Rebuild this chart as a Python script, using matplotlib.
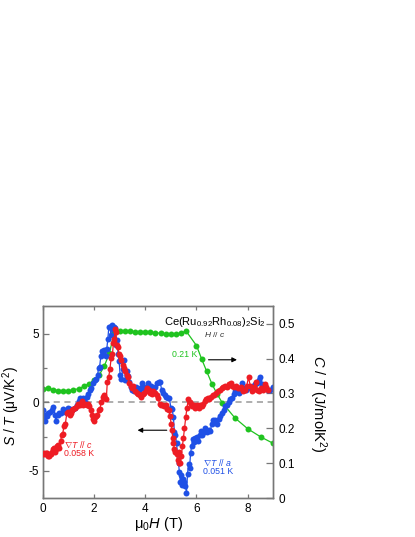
import numpy as np
import matplotlib
matplotlib.use("Agg")
import matplotlib.pyplot as plt
from matplotlib.ticker import FixedLocator, FixedFormatter

plt.rcParams["font.family"] = ["Liberation Sans", "DejaVu Sans"]
plt.rcParams["mathtext.fontset"] = "custom"
plt.rcParams["mathtext.rm"] = "Liberation Sans"
plt.rcParams["mathtext.it"] = "Liberation Sans:italic"
plt.rcParams["axes.unicode_minus"] = False

# S/T, grad T // a (left axis)
h_a = [0.00, 0.03, 0.06, 0.10, 0.16, 0.22, 0.30, 0.35, 0.41, 0.47, 0.52, 0.58, 0.65, 0.72,
       0.80, 0.87, 0.93, 1.00, 1.07, 1.13, 1.20, 1.27, 1.33, 1.40, 1.47, 1.53, 1.59, 1.65,
       1.72, 1.78, 1.84, 1.90, 1.96, 2.02, 2.08, 2.14, 2.18, 2.22, 2.27, 2.31, 2.36, 2.40,
       2.45, 2.50, 2.54, 2.58, 2.62, 2.66, 2.70, 2.74, 2.78, 2.82, 2.86, 2.90, 2.94, 2.98,
       3.02, 3.07, 3.12, 3.17, 3.22, 3.27, 3.32, 3.38, 3.44, 3.50, 3.56, 3.62, 3.68, 3.74,
       3.80, 3.86, 3.92, 3.98, 4.05, 4.11, 4.17, 4.24, 4.31, 4.38, 4.45, 4.52, 4.58, 4.64,
       4.70, 4.76, 4.82, 4.88, 4.94, 5.00, 5.05, 5.10, 5.14, 5.18, 5.22, 5.26, 5.30, 5.33,
       5.37, 5.41, 5.45, 5.49, 5.53, 5.57, 5.61, 5.65, 5.69, 5.73, 5.77, 5.81, 5.85, 5.90,
       5.95, 6.01, 6.06, 6.12, 6.18, 6.23, 6.29, 6.35, 6.41, 6.47, 6.53, 6.60, 6.66, 6.73,
       6.79, 6.86, 6.93, 7.00, 7.06, 7.12, 7.19, 7.25, 7.32, 7.38, 7.45, 7.52, 7.58, 7.65,
       7.72, 7.78, 7.85, 7.92, 8.00, 8.10, 8.20, 8.30, 8.36, 8.43, 8.49, 8.56, 8.62, 8.69,
       8.78, 8.88, 9.00]
s_a = [-0.6, -0.9, -1.0, -1.4, -1.0, -0.8, -0.7, -0.6, -0.35, -0.9, -1.4, -0.9, -0.8, -0.75,
       -0.5, -0.7, -0.6, -0.45, -0.5, -0.6, -0.5, -0.4, -0.2, 0.1, 0.3, 0.2, 0.3, 0.0,
       0.4, 0.6, 0.9, 1.0, 1.4, 1.6, 1.7, 2.0, 2.5, 2.6, 3.4, 3.7, 3.6, 3.8,
       3.4, 3.9, 4.6, 5.5, 5.5, 4.9, 5.6, 5.3, 5.5, 5.4, 4.2, 4.5, 3.5, 3.0,
       2.0, 1.7, 2.4, 3.1, 1.6, 2.3, 1.9, 1.5, 1.1, 0.9, 0.8, 1.1, 0.9, 0.8,
       1.0, 1.4, 1.0, 1.1, 1.0, 1.4, 1.1, 1.2, 0.9, 1.1, 1.4, 1.5, 1.5, 0.9,
       0.7, 0.5, 0.4, 0.3, 0.3, -0.4, -0.5, -1.1, -2.2, -2.4, -3.0, -3.7, -4.4, -5.1,
       -5.8, -5.3, -6.0, -5.6, -5.8, -6.1, -6.6, -5.2, -4.5, -4.8, -3.7, -3.2, -2.7, -2.9,
       -2.6, -2.5, -2.8, -2.4, -2.1, -2.4, -2.2, -1.9, -2.2, -2.0, -2.1, -1.6, -1.3, -1.3,
       -1.6, -1.2, -1.0, -0.8, -0.6, -0.3, -0.2, 0.0, 0.2, 0.3, 0.6, 0.8, 0.9, 0.7,
       0.9, 1.4, 1.0, 0.9, 1.0, 1.1, 1.2, 1.3, 1.4, 1.6, 1.8, 1.3, 1.1, 1.0,
       0.9, 0.9, 1.1]

# S/T, grad T // c (left axis)
h_c = [0.00, 0.05, 0.09, 0.13, 0.18, 0.22, 0.26, 0.31, 0.35, 0.39, 0.44, 0.48, 0.52, 0.56,
       0.61, 0.65, 0.70, 0.74, 0.78, 0.83, 0.88, 0.94, 1.00, 1.05, 1.09, 1.14, 1.20, 1.26,
       1.33, 1.39, 1.46, 1.52, 1.59, 1.65, 1.72, 1.78, 1.82, 1.87, 1.91, 1.96, 2.00, 2.04,
       2.09, 2.13, 2.18, 2.23, 2.28, 2.34, 2.39, 2.44, 2.48, 2.52, 2.57, 2.62, 2.67, 2.72,
       2.76, 2.79, 2.82, 2.86, 2.89, 2.93, 2.97, 3.02, 3.07, 3.12, 3.17, 3.22, 3.27, 3.32,
       3.38, 3.43, 3.48, 3.54, 3.60, 3.66, 3.72, 3.78, 3.84, 3.90, 3.96, 4.02, 4.08, 4.14,
       4.20, 4.26, 4.32, 4.38, 4.44, 4.50, 4.56, 4.62, 4.68, 4.74, 4.80, 4.86, 4.92, 4.97,
       5.01, 5.04, 5.07, 5.10, 5.14, 5.18, 5.22, 5.26, 5.30, 5.33, 5.37, 5.41, 5.45, 5.49,
       5.53, 5.58, 5.63, 5.68, 5.73, 5.78, 5.84, 5.90, 5.96, 6.02, 6.08, 6.14, 6.20, 6.26,
       6.32, 6.38, 6.44, 6.50, 6.57, 6.63, 6.70, 6.77, 6.84, 6.91, 6.98, 7.05, 7.12, 7.19,
       7.26, 7.33, 7.40, 7.47, 7.54, 7.61, 7.68, 7.75, 7.82, 7.89, 7.96, 8.03, 8.10, 8.17,
       8.24, 8.31, 8.38, 8.45, 8.52, 8.59, 8.66, 8.73, 8.80]
s_c = [-3.8, -3.7, -3.8, -3.7, -3.7, -3.9, -3.9, -3.8, -3.6, -3.4, -3.3, -3.6, -3.4, -3.2,
       -3.1, -3.3, -2.8, -2.4, -2.3, -1.7, -1.6, -0.8, -0.7, -0.9, -0.8, -0.6, -0.5, -0.4,
       -0.3, -0.1, -0.2, 0.1, -0.2, -0.1, -0.2, -0.1, -0.3, -0.6, -0.9, -1.2, -1.4, -1.1,
       -1.0, -0.9, -0.6, -0.5, 0.0, 0.4, 0.5, 0.3, 0.2, 1.5, 1.8, 2.4, 3.2, 3.5,
       4.3, 4.6, 5.3, 5.1, 4.2, 4.0, 3.5, 3.4, 3.1, 2.7, 2.5, 2.3, 2.0, 1.8,
       1.4, 1.2, 1.0, 1.2, 0.8, 0.7, 0.6, 0.5, 0.4, 0.6, 0.7, 0.8, 1.0, 0.9,
       0.7, 0.6, 0.8, 0.7, 0.5, 0.3, -0.1, -0.2, -0.2, -0.3, -0.2, -0.5, -0.6, -1.0,
       -1.6, -2.0, -2.6, -3.0, -3.4, -3.6, -3.8, -4.2, -4.4, -3.6, -4.4, -3.9, -3.2, -2.6,
       -1.9, -1.1, -0.4, 0.2, 0.0, -0.1, -0.3, -0.2, -0.4, -0.2, -0.4, -0.2, -0.3, -0.1,
       0.1, 0.2, 0.3, 0.2, 0.4, 0.5, 0.5, 0.7, 0.8, 0.9, 1.0, 1.1, 1.2, 1.1,
       1.3, 1.4, 1.2, 1.1, 1.2, 1.0, 1.0, 1.1, 0.8, 0.9, 1.2, 1.8, 1.2, 0.8,
       1.1, 1.5, 0.9, 0.8, 1.0, 0.9, 1.3, 1.1, 0.9]

# C/T at 0.21 K (right axis)
h_heat = [0.0, 0.2, 0.4, 0.6, 0.8, 1.0, 1.2, 1.4, 1.6, 1.8, 2.0, 2.2, 2.4, 2.6, 2.8,
          3.0, 3.2, 3.4, 3.6, 3.8, 4.0, 4.2, 4.4, 4.6, 4.8, 5.0, 5.2, 5.4, 5.6,
          6.0, 6.2, 6.4, 6.6, 6.8, 7.0, 7.5, 8.0, 8.5, 9.0]
c_heat = [0.312, 0.315, 0.311, 0.308, 0.307, 0.308, 0.310, 0.314, 0.320, 0.328, 0.338, 0.352,
          0.378, 0.415, 0.477, 0.478, 0.478, 0.478, 0.477, 0.477, 0.476, 0.475, 0.474, 0.472,
          0.470, 0.469, 0.470, 0.473, 0.478, 0.437, 0.399, 0.363, 0.328, 0.299, 0.274,
          0.230, 0.199, 0.176, 0.157]

red = "#ee1c24"
blue = "#1f50e6"
green = "#1fc31f"
spine = "#777777"

fig = plt.figure(figsize=(4.15, 5.37), dpi=100)
ax = fig.add_axes([0.103, 0.072, 0.5557, 0.358])
ax2 = ax.twinx()
# keep the S/T curves above the C/T curve
ax.set_zorder(ax2.get_zorder() + 1)
ax.patch.set_visible(False)

ms = 4.3
ax2.plot(h_heat, c_heat, "-o", color=green, lw=0.9, ms=ms, mew=0)
ax.axhline(0, color="#999999", lw=1.1, ls=(0, (4, 3)), zorder=1)
ax.plot(h_a, s_a, "-o", color=blue, lw=0.9, ms=ms, mew=0, zorder=2)
ax.plot(h_c, s_c, "-o", color=red, lw=0.9, ms=ms, mew=0, zorder=3)

ax.set_xlim(0, 9)
ax.set_ylim(-7, 7)
ax2.set_ylim(0, 0.55)
ax.xaxis.set_major_locator(FixedLocator([0, 2, 4, 6, 8]))
ax.yaxis.set_major_locator(FixedLocator([-5, 0, 5]))
ax.yaxis.set_minor_locator(FixedLocator([-2.5, 2.5]))
ax2.yaxis.set_major_locator(FixedLocator([0, 0.1, 0.2, 0.3, 0.4, 0.5]))
ax2.yaxis.set_major_formatter(FixedFormatter(["0", "0.1", "0.2", "0.3", "0.4", "0.5"]))

for a in (ax, ax2):
    for sp in a.spines.values():
        sp.set_color(spine)
        sp.set_linewidth(1.0)
ax.tick_params(axis="x", direction="in", top=True, length=3, width=0.9, color=spine,
               labelsize=8.5, pad=3)
ax.tick_params(axis="y", which="major", direction="in", length=4, width=0.9, color=spine,
               labelsize=8.5, pad=2.5)
ax.tick_params(axis="y", which="minor", direction="in", length=3, width=0.9, color=spine)
ax2.tick_params(axis="y", direction="in", length=5, width=0.9, color=spine,
                labelsize=8.5, pad=3.5)

ax.set_xlabel(r"$\mathrm{\mu}_0H$ (T)", fontsize=10.5)
ax.xaxis.set_label_coords(0.5, -0.085)
ax.set_ylabel(r"$S$ / $T$ ($\mathrm{\mu}$V/K$^2$)", fontsize=10)
ax.yaxis.set_label_coords(-0.088, 0.48)
ax2.set_ylabel(r"$C$ / $T$ (J/molK$^2$)", fontsize=10.5, rotation=270, va="bottom")
ax2.yaxis.set_label_coords(1.146, 0.49)

ax.text(4.75, 5.87, r"Ce(Ru$_{0.92}$Rh$_{0.08}$)$_2$Si$_2$", fontsize=8, va="center")
ax.text(6.3, 4.94, r"$H$ // $c$", fontsize=6, va="center", color="#333333")
ax.text(5.04, 3.47, "0.21 K", fontsize=6.3, va="center", color=green)
ax.text(0.83, -3.09, r"$\nabla T$ // $c$", fontsize=6.3, va="center", color=red)
ax.text(0.83, -3.72, "0.058 K", fontsize=6.3, va="center", color=red)
ax.text(6.27, -4.36, r"$\nabla T$ // $a$", fontsize=6.3, va="center", color=blue)
ax.text(6.27, -5.04, "0.051 K", fontsize=6.3, va="center", color=blue)

arrow = dict(arrowstyle="-|>", color="black", lw=0.8, mutation_scale=7, shrinkA=0, shrinkB=0)
ax.annotate("", xy=(3.7, -2.04), xytext=(4.84, -2.04), arrowprops=arrow)
ax.annotate("", xy=(7.58, 3.09), xytext=(6.47, 3.09), arrowprops=arrow)

fig.savefig("out.png", dpi=100)
plt.close(fig)
